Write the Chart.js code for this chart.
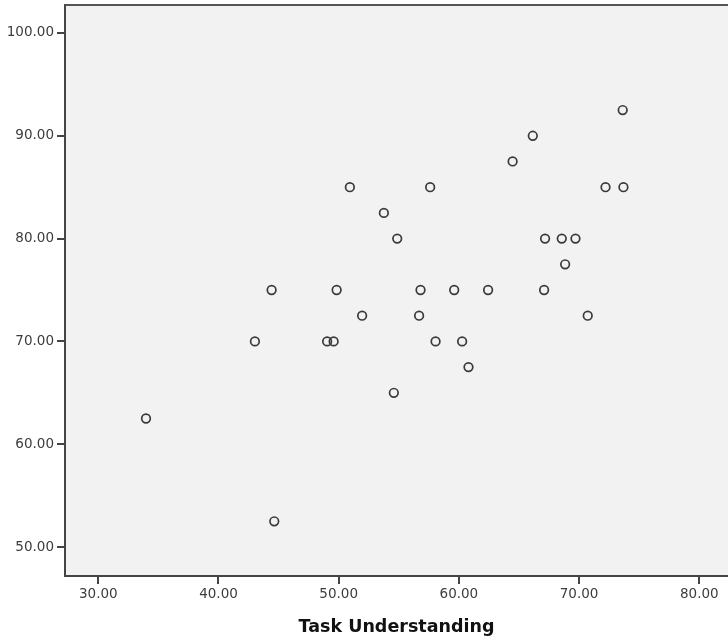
<!DOCTYPE html>
<html>
<head>
<meta charset="utf-8">
<script src="https://cdn.jsdelivr.net/npm/chart.js@4.4.1/dist/chart.umd.min.js"></script>
<style>
  html, body { margin: 0; padding: 0; background: #ffffff; }
  #wrap { width: 728px; height: 638px; position: relative; }
</style>
</head>
<body>
<div id="wrap"><canvas id="c" width="728" height="638"></canvas></div>
<script>
// Data (x = Task Understanding, y = unlabeled variable)
const taskUnderstanding = [33.97, 44.64, 43.03, 44.42, 49.04, 49.58, 49.83, 50.93, 51.95, 53.76,
  54.59, 54.87, 56.69, 56.81, 57.61, 58.06, 59.61, 60.27, 60.80, 62.43,
  64.47, 66.15, 67.17, 67.09, 68.56, 68.84, 69.70, 70.72, 72.20, 73.63, 73.69];
const outcomeScore = [62.5, 52.5, 70, 75, 70, 70, 75, 85, 72.5, 82.5,
  65, 80, 72.5, 75, 85, 70, 75, 70, 67.5, 75,
  87.5, 90, 80, 75, 80, 77.5, 80, 72.5, 85, 92.5, 85];
const xTickValues = [30, 40, 50, 60, 70, 80];
const yTickValues = [50, 60, 70, 80, 90, 100];
const xAxisTitle = "Task Understanding";

const points = taskUnderstanding.map((x, i) => ({ x: x, y: outcomeScore[i] }));

const bgPlugin = {
  id: 'plotBg',
  beforeDraw(chart) {
    const { ctx, chartArea: a } = chart;
    ctx.save();
    ctx.fillStyle = '#f2f2f2';
    ctx.fillRect(a.left, a.top, a.right - a.left, a.bottom - a.top);
    ctx.restore();
  },
  afterDatasetsDraw(chart) {
    const { ctx, chartArea: a } = chart;
    ctx.save();
    ctx.strokeStyle = '#555555';
    ctx.lineWidth = 2;
    ctx.beginPath();
    ctx.moveTo(a.left, a.top);
    ctx.lineTo(a.right, a.top);
    ctx.stroke();
    ctx.restore();
  }
};

const tickFont = { family: 'DejaVu Sans', size: 13.5 };

new Chart(document.getElementById('c'), {
  type: 'scatter',
  data: {
    datasets: [{
      data: points,
      pointStyle: 'circle',
      pointRadius: 4.3,
      pointHoverRadius: 4.3,
      pointBorderWidth: 1.7,
      borderColor: '#3a3a3a',
      backgroundColor: 'rgba(0,0,0,0)'
    }]
  },
  plugins: [bgPlugin],
  options: {
    responsive: false,
    animation: false,
    devicePixelRatio: 1,
    layout: { autoPadding: false, padding: { top: 5, right: 0, left: 0, bottom: 0 } },
    plugins: { legend: { display: false }, tooltip: { enabled: false } },
    scales: {
      x: {
        type: 'linear',
        min: 27.23,
        max: 82.39,
        afterBuildTicks(scale) { scale.ticks = xTickValues.map(v => ({ value: v })); },
        afterFit(scale) { scale.height = 62; scale.paddingLeft = 0; scale.paddingRight = 0; },
        border: { display: true, color: '#444444', width: 2 },
        grid: { drawOnChartArea: false, drawTicks: true, tickLength: 8, color: '#444444', lineWidth: 2 },
        ticks: { font: tickFont, color: '#3c3c3c', padding: 2, maxRotation: 0, autoSkip: false,
          callback: v => Number(v).toFixed(2) },
        title: { display: true, text: xAxisTitle, color: '#111111',
          font: { family: 'DejaVu Sans', size: 17.5, weight: 'bold' }, padding: { top: 4, bottom: 0 } }
      },
      y: {
        type: 'linear',
        min: 47.18,
        max: 102.72,
        afterBuildTicks(scale) { scale.ticks = yTickValues.map(v => ({ value: v })); },
        afterFit(scale) { scale.width = 65; scale.paddingTop = 0; scale.paddingBottom = 0; },
        border: { display: true, color: '#444444', width: 2 },
        grid: { drawOnChartArea: false, drawTicks: true, tickLength: 8, color: '#444444', lineWidth: 2 },
        ticks: { font: tickFont, color: '#3c3c3c', padding: 3, autoSkip: false,
          callback: v => Number(v).toFixed(2) }
      }
    }
  }
});
</script>
</body>
</html>
